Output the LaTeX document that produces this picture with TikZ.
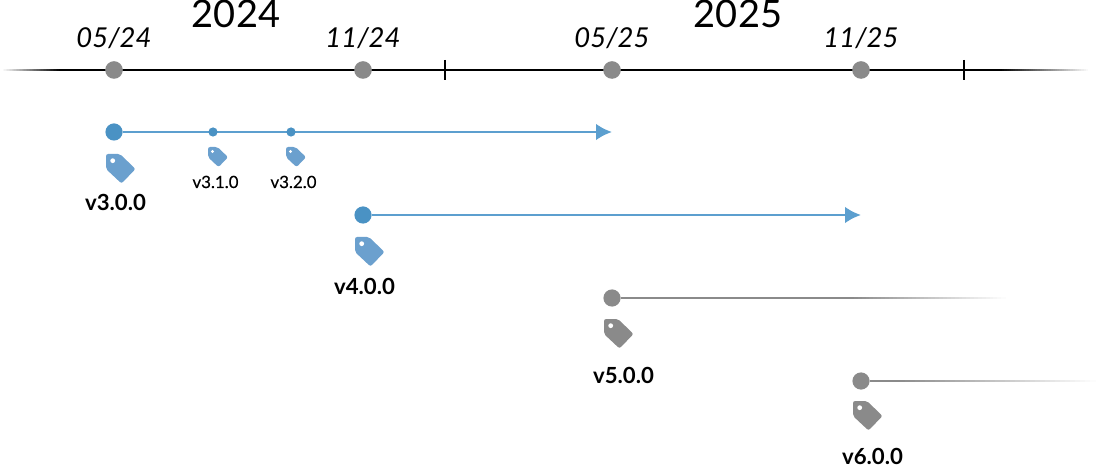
\documentclass[tikz,border=0pt]{standalone}
\usepackage{fontspec}
\setmainfont{Lato}
\usepackage{tikz}
\usetikzlibrary{calc,arrows.meta,positioning}
\definecolor{markgrey}{HTML}{8A8A8A}
\definecolor{relblue}{HTML}{4A92C4}
\definecolor{lineblue}{HTML}{5C9FCF}
\definecolor{tagblue}{HTML}{6BA0CE}

% price-tag icon, (0,0) is its upper left corner
\tikzset{pics/versiontag/.style={code={
  \fill[#1,rounded corners=1.5] (0,0) -- (14,0) -- (29.5,15) -- (15.5,29.5) -- (0,15) -- cycle;
  \fill[white] (6.7,6.7) circle (2.4);
}}}

% strip of half height #1 from #3 to #4 that runs out from colour #2 into white
\newcommand{\fadeline}[4][1.4]{
  \foreach \i in {0,...,39} {
    \pgfmathsetmacro{\shadeval}{100-2.5*\i}
    \fill[#2!\shadeval!white] ($(#3)!\i/40!(#4)+(0,-#1)$) rectangle ($(#3)!\i/40+0.03!(#4)+(0,#1)$);
  }
}

\begin{document}
\begin{tikzpicture}[x=.025cm,y=-.025cm,
  monthdot/.style={circle,fill=markgrey,inner sep=0pt,minimum size=.44cm},
  majorblue/.style={circle,fill=relblue,inner sep=0pt,minimum size=.43cm},
  minorblue/.style={circle,fill=relblue,inner sep=0pt,minimum size=.23cm},
  majorgrey/.style={circle,fill=markgrey,inner sep=0pt,minimum size=.43cm},
  yearlabel/.style={font=\fontsize{27}{27}\selectfont,anchor=base},
  monthlabel/.style={font=\fontsize{19.5}{20}\selectfont\itshape,anchor=base},
  majorlabel/.style={font=\fontsize{15.8}{16}\selectfont\bfseries,anchor=base},
  minorlabel/.style={font=\fontsize{12}{12}\selectfont\addfontfeature{FakeBold=0.4},anchor=base},
  bluearrow/.style={lineblue,line width=2pt,-{Latex[length=.4cm,width=.42cm]}},
  greyline/.style={markgrey,line width=2pt}]

\useasboundingbox (0,0) rectangle (1110,465);

% Axis
\coordinate (axStart) at (3,70);
\coordinate (axLeft) at (60,70);
\coordinate (axRight) at (1000,70);
\coordinate (axEnd) at (1088,70);
\draw[line width=1.4pt] (axLeft) -- (axRight);
\fadeline[1]{black}{axLeft}{axStart}
\fadeline[1]{black}{axRight}{axEnd}
\foreach \x/\n in {445/tickA,964/tickB} {
  \coordinate (\n) at (\x,70);
  \draw[line width=1.1pt] ($(\n)+(0,-10)$) -- ($(\n)+(0,10)$);
}

% Months on the axis
\foreach \x/\n/\t in {114/m0/05\slash 24,363/m1/11\slash 24,612/m2/05\slash 25,861/m3/11\slash 25} {
  \node[monthdot] (\n) at (\x,70) {};
  \node[monthlabel] (\n label) at (\x,48) {\t};
}

% Years
\node[yearlabel] (y24) at (236,28) {2024};
\node[yearlabel] (y25) at (738,28) {2025};

% Blue releases
\node[majorblue] (v3) at (114,132) {};
\node[majorblue] (v4) at (363,215) {};
\coordinate (v3end) at (612,132);
\coordinate (v4end) at (861,215);
\draw[bluearrow] (v3) -- (v3end);
\draw[bluearrow] (v4) -- (v4end);
\node[minorblue] (v31) at (213,132) {};
\node[minorblue] (v32) at (291,132) {};

% Grey releases
\node[majorgrey] (v5) at (612,298) {};
\node[majorgrey] (v6) at (861,381) {};
\coordinate (v5mid) at (850,298);
\coordinate (v5end) at (1005,298);
\coordinate (v6mid) at (895,381);
\coordinate (v6end) at (1095,381);
\draw[greyline] (v5) -- (v5mid);
\draw[greyline] (v6) -- (v6mid);
\fadeline{markgrey}{v5mid}{v5end}
\fadeline{markgrey}{v6mid}{v6end}

% Tags
\pic at (106,154) {versiontag=tagblue};
\pic at (355,237) {versiontag=tagblue};
\pic at (604,319) {versiontag=markgrey};
\pic at (853,401) {versiontag=markgrey};
\pic[scale=.68] at (208,147) {versiontag=tagblue};
\pic[scale=.68] at (286,147) {versiontag=tagblue};

% Version names
\node[majorlabel] (t3) at (115.5,211) {v3.0.0};
\node[majorlabel] (t4) at (364.5,294) {v4.0.0};
\node[majorlabel] (t5) at (623.5,383) {v5.0.0};
\node[majorlabel] (t6) at (872.5,464.5) {v6.0.0};
\node[minorlabel] (t31) at (215.5,188) {v3.1.0};
\node[minorlabel] (t32) at (293.5,188) {v3.2.0};

\end{tikzpicture}
\end{document}
